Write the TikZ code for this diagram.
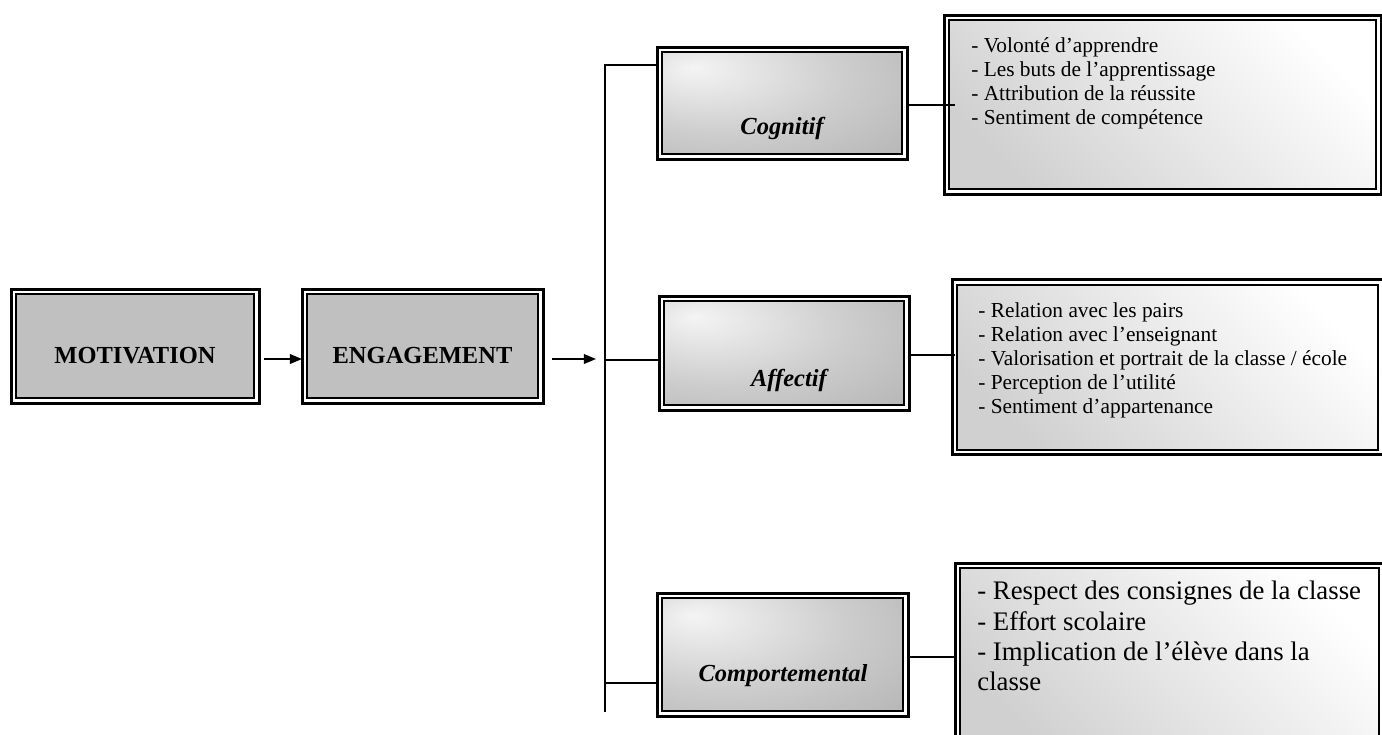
\documentclass[tikz,border=0pt]{standalone}
\usepackage{fontspec}
\setmainfont{Liberation Serif}
\usetikzlibrary{arrows.meta}
\def\px{0.5714pt}
\definecolor{boxgray}{RGB}{192,192,192}
\definecolor{labhi}{RGB}{244,244,244}
\definecolor{labmid}{RGB}{205,205,205}
\definecolor{lablo}{RGB}{170,170,170}
\definecolor{conlo}{RGB}{208,208,208}
\pgfdeclareradialshading{labshade}{\pgfpoint{-18bp}{16bp}}{color(0bp)=(labhi); color(25bp)=(labmid); color(55bp)=(lablo); color(80bp)=(lablo)}
\tikzset{
  dbl/.style={draw, fill=white, line width=3*\px, inner sep=0pt, outer sep=0pt,
    path picture={
      \path[#1] ([xshift=5*\px,yshift=-5*\px]path picture bounding box.north west) rectangle ([xshift=-5*\px,yshift=5*\px]path picture bounding box.south east);
      \draw[line width=2*\px] ([xshift=5*\px,yshift=-5*\px]path picture bounding box.north west) rectangle ([xshift=-5*\px,yshift=5*\px]path picture bounding box.south east);
    }},
  mainbox/.style={dbl={fill=boxgray}},
  labbox/.style={dbl={shade, shading=labshade}},
  conbox/.style={dbl={shade, shading=axis, top color=white, bottom color=conlo, shading angle=-45}},
  maintext/.style={font=\fontsize{14}{16}\selectfont\bfseries, inner sep=0pt},
  labtext/.style={font=\fontsize{14}{16}\selectfont\bfseries\itshape, inner sep=0pt},
  ctext/.style={align=left, inner sep=0pt, anchor=north west, font=\fontsize{12.2}{13.7}\selectfont},
  btext/.style={align=left, inner sep=0pt, anchor=north west, font=\fontsize{15.3}{17.2}\selectfont},
  conn/.style={line width=1.6*\px},
  arr/.style={conn, -{Triangle[length=7pt,width=5.6pt]}}
}
\begin{document}
\begin{tikzpicture}[x=0.5714pt, y=-0.5714pt]
\useasboundingbox (0,0) rectangle (1382,734);
\clip (0,0) rectangle (1382,734);
% main boxes
\node[mainbox, minimum width=248*\px, minimum height=114*\px] (mot) at (135,346) {};
\node[maintext] (mott) at (135,356) {MOTIVATION};
\node[mainbox, minimum width=241*\px, minimum height=114*\px] (eng) at (422.5,346) {};
\node[maintext] (engt) at (422.5,356) {ENGAGEMENT};
% arrows
\coordinate (a1s) at (264,359);
\coordinate (a1e) at (302,359);
\draw[arr] (a1s) -- (a1e);
\coordinate (a2s) at (552,359);
\coordinate (a2e) at (596,359);
\draw[arr] (a2s) -- (a2e);
% tree
\coordinate (vt) at (605,64);
\coordinate (vb) at (605,712);
\draw[conn] (vt) -- (vb);
% label boxes
\node[labbox, minimum width=250*\px, minimum height=112*\px] (cog) at (782,103) {};
\node[labtext] (cogt) at (782,128) {Cognitif};
\node[labbox, minimum width=250*\px, minimum height=114*\px] (aff) at (784,353) {};
\node[labtext] (afft) at (789,380) {Affectif};
\node[labbox, minimum width=251*\px, minimum height=123*\px] (comp) at (782.5,654.5) {};
\node[labtext] (compt) at (783,676) {Comportemental};
% branches
\coordinate (b1) at (605,65);
\coordinate (b2) at (605,360);
\coordinate (b3) at (605,683);
\draw[conn] (b1) -- (b1 -| cog.west);
\draw[conn] (b2) -- (b2 -| aff.west);
\draw[conn] (b3) -- (b3 -| comp.west);
% content boxes
\node[conbox, minimum width=437*\px, minimum height=179*\px] (cogc) at (1162.5,104.5) {};
\node[ctext] (cogct) at (971,37) {- Volonté d’apprendre\\- Les buts de l’apprentissage\\- Attribution de la réussite\\- Sentiment de compétence};
\node[conbox, minimum width=431*\px, minimum height=175*\px] (affc) at (1167.5,367) {};
\node[ctext] (affct) at (978,302) {- Relation avec les pairs\\- Relation avec l’enseignant\\- Valorisation et portrait de la classe / école\\- Perception de l’utilité\\- Sentiment d’appartenance};
\node[conbox, minimum width=429*\px, minimum height=190*\px] (compc) at (1169.5,658) {};
\node[btext] (compct) at (977,581) {- Respect des consignes de la classe\\- Effort scolaire\\- Implication de l’élève dans la\\classe};
% connectors to content
\coordinate (c1) at (955,105);
\draw[conn] (cog.east |- c1) -- (c1);
\coordinate (c2) at (955,355);
\draw[conn] (aff.east |- c2) -- (c2);
\coordinate (c3) at (955,657);
\draw[conn] (comp.east |- c3) -- (c3);
\end{tikzpicture}
\end{document}
